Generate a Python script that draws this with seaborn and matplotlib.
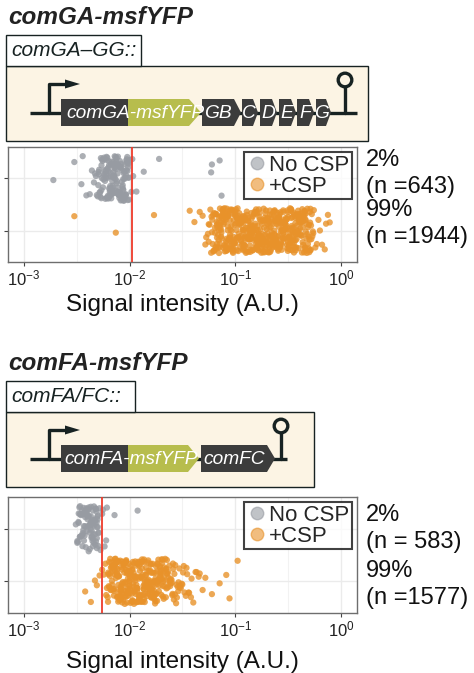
import matplotlib

matplotlib.use("Agg")
import matplotlib.pyplot as plt
import numpy as np
import pandas as pd
import seaborn as sns
from matplotlib.lines import Line2D
from matplotlib.patches import Circle, Polygon, Rectangle
from matplotlib.ticker import FixedLocator, NullFormatter

# ---- data ----
conditions = ["No CSP", "+CSP"]
construct_titles = ["comGA-msfYFP", "comFA-msfYFP"]
construct_labels = ["comGA\u2013GG::", "comFA/FC::"]
pct_labels = [["2%", "99%"], ["2%", "99%"]]
n_labels = [["(n =643)", "(n =1944)"], ["(n = 583)", "(n =1577)"]]
thresholds = [0.0105, 0.0055]

comga_nocsp = [
    0.0050, 0.0053, 0.0055, 0.0058, 0.0061, 0.0064, 0.0067, 0.0070, 0.0073, 0.0077,
    0.0081, 0.0085, 0.0089, 0.0093, 0.0098,
    0.0051, 0.0054, 0.0057, 0.0060, 0.0062, 0.0065, 0.0068, 0.0071, 0.0075, 0.0079,
    0.0083, 0.0087, 0.0091, 0.0096, 0.0100,
    0.0052, 0.0056, 0.0059, 0.0063, 0.0066, 0.0069, 0.0072, 0.0076, 0.0080, 0.0084,
    0.0088, 0.0092, 0.0095, 0.0099,
    0.0054, 0.0058, 0.0061, 0.0064, 0.0067, 0.0070, 0.0074, 0.0078, 0.0082, 0.0086,
    0.0090, 0.0094, 0.0097,
    0.0060, 0.0063, 0.0066, 0.0069, 0.0072, 0.0075, 0.0078, 0.0081, 0.0085, 0.0088,
    0.0092, 0.0065, 0.0071, 0.0076,
    0.00505, 0.00535, 0.00565, 0.00595, 0.00625, 0.00655, 0.00685, 0.00715, 0.00745,
    0.00785, 0.00825, 0.00865, 0.00905, 0.00945, 0.00985,
    0.00515, 0.00545, 0.00575, 0.00605, 0.00635, 0.00665, 0.00695, 0.00725, 0.00765,
    0.00805, 0.00845, 0.00885, 0.00925, 0.00965,
    0.00525, 0.00555, 0.00585, 0.00615, 0.00645, 0.00675, 0.00705, 0.00735, 0.00775,
    0.00815, 0.00855, 0.00895, 0.00935, 0.00975,
    0.00615, 0.00655, 0.00695, 0.00735, 0.00775, 0.00815, 0.00855, 0.00895,
    0.00572, 0.00602, 0.00632, 0.00662, 0.00692, 0.00722, 0.00752, 0.00792, 0.00832,
    0.00872, 0.00912, 0.00952, 0.00542, 0.00512,
    0.0019, 0.0030, 0.0035, 0.0036, 0.0039, 0.0042, 0.0044, 0.0046, 0.0047, 0.0048,
    0.0049, 0.0104, 0.0106, 0.0108, 0.0116, 0.0136, 0.019, 0.059, 0.060, 0.071, 0.074,
]
comga_csp = [
    0.058, 0.064, 0.071, 0.079, 0.086, 0.095, 0.104, 0.115, 0.127, 0.139, 0.152, 0.168,
    0.185, 0.203, 0.224, 0.246, 0.271, 0.298, 0.327, 0.361, 0.396, 0.437, 0.479, 0.528,
    0.061, 0.067, 0.074, 0.082, 0.090, 0.099, 0.109, 0.120, 0.132, 0.145, 0.160, 0.176,
    0.194, 0.213, 0.235, 0.258, 0.284, 0.313, 0.344, 0.378, 0.416, 0.458, 0.503, 0.552,
    0.059, 0.065, 0.072, 0.077, 0.084, 0.093, 0.101, 0.112, 0.123, 0.136, 0.149, 0.163,
    0.180, 0.198, 0.219, 0.240, 0.265, 0.291, 0.320, 0.352, 0.388, 0.426, 0.469, 0.516,
    0.062, 0.069, 0.075, 0.081, 0.088, 0.097, 0.107, 0.117, 0.129, 0.142, 0.156, 0.171,
    0.189, 0.208, 0.229, 0.252, 0.277, 0.305, 0.335, 0.369, 0.406, 0.447, 0.491, 0.540,
    0.060, 0.066, 0.070, 0.078, 0.085, 0.092, 0.102, 0.113, 0.124, 0.137, 0.150, 0.166,
    0.182, 0.201, 0.221, 0.243, 0.268, 0.294, 0.324, 0.356, 0.392, 0.431, 0.474, 0.522,
    0.063, 0.068, 0.076, 0.083, 0.091, 0.100, 0.110, 0.121, 0.134, 0.147, 0.161, 0.178,
    0.196, 0.216, 0.237, 0.261, 0.287, 0.316, 0.347, 0.382, 0.421, 0.463, 0.509,
    0.065, 0.073, 0.080, 0.087, 0.096, 0.105, 0.116, 0.128, 0.140, 0.154, 0.170, 0.187,
    0.205, 0.226, 0.249, 0.274, 0.301, 0.331, 0.365, 0.401, 0.442, 0.485,
    0.070, 0.083, 0.094, 0.108, 0.118, 0.131, 0.144, 0.158, 0.174, 0.192, 0.211, 0.232,
    0.255, 0.281, 0.309, 0.340, 0.374, 0.411, 0.452, 0.497,
    0.098, 0.111, 0.126, 0.138, 0.153, 0.167, 0.184, 0.202, 0.222, 0.244, 0.269, 0.296,
    0.329, 0.358, 0.399,
    0.064, 0.072, 0.089, 0.103, 0.119, 0.133, 0.146, 0.162, 0.179, 0.199, 0.217, 0.238,
    0.262, 0.289, 0.318, 0.349, 0.384, 0.423, 0.466, 0.512,
    0.067, 0.076, 0.093, 0.106, 0.122, 0.141, 0.155, 0.172, 0.193, 0.212, 0.233, 0.256,
    0.283, 0.311, 0.342, 0.376, 0.414, 0.455, 0.500, 0.545,
    0.0595, 0.0655, 0.0715, 0.0785, 0.0855, 0.0935, 0.103, 0.114, 0.125, 0.138, 0.151,
    0.165, 0.181, 0.200, 0.220, 0.242, 0.266, 0.293, 0.322, 0.355, 0.390, 0.429, 0.472, 0.519,
    0.0615, 0.0675, 0.0735, 0.0805, 0.0875, 0.0965, 0.106, 0.117, 0.128, 0.141, 0.155,
    0.170, 0.187, 0.206, 0.227, 0.249, 0.274, 0.301, 0.331, 0.364, 0.401, 0.441, 0.485, 0.534,
    0.0625, 0.0685, 0.0745, 0.0815, 0.0895, 0.0985, 0.108, 0.119, 0.131, 0.144, 0.158,
    0.174, 0.191, 0.210, 0.231, 0.254, 0.280, 0.308, 0.338, 0.372, 0.409, 0.450, 0.495,
    0.0645, 0.0705, 0.0775, 0.0845, 0.0925, 0.101, 0.111, 0.122, 0.135, 0.148, 0.163,
    0.179, 0.197, 0.216, 0.238, 0.262, 0.288, 0.317, 0.348, 0.383, 0.420, 0.462, 0.508,
    0.0665, 0.0725, 0.0795, 0.0865, 0.0945, 0.104, 0.114, 0.126, 0.138, 0.152, 0.167,
    0.184, 0.202, 0.222, 0.245, 0.269, 0.296, 0.326, 0.358, 0.394, 0.433, 0.477,
    0.0695, 0.0765, 0.0835, 0.0915, 0.100, 0.110, 0.121, 0.133, 0.146, 0.161, 0.177,
    0.195, 0.214, 0.235, 0.259, 0.285, 0.313, 0.345, 0.379, 0.417, 0.459,
    0.0755, 0.0825, 0.0905, 0.0995, 0.109, 0.120, 0.132, 0.145, 0.160, 0.176, 0.193,
    0.212, 0.234, 0.257, 0.283, 0.311, 0.342, 0.376,
    0.0785, 0.0885, 0.0975, 0.107, 0.118, 0.130, 0.143, 0.157, 0.173, 0.190, 0.209,
    0.230, 0.253, 0.278, 0.306, 0.337, 0.370, 0.407, 0.448,
    0.0605, 0.0668, 0.0738, 0.0812, 0.0898, 0.0988, 0.1088, 0.1195, 0.1318, 0.1452,
    0.1598, 0.1765, 0.1942, 0.2138, 0.2355, 0.2592, 0.2852, 0.3138, 0.3455, 0.3805,
    0.4185, 0.4605, 0.5065,
    0.0632, 0.0698, 0.0768, 0.0848, 0.0932, 0.1028, 0.1132, 0.1248, 0.1372, 0.1512,
    0.1665, 0.1832, 0.2018, 0.2222, 0.2448, 0.2695, 0.2965, 0.3265, 0.3595, 0.3955, 0.4355,
    0.0712, 0.0792, 0.0872, 0.0962, 0.1062, 0.1168, 0.1285, 0.1415, 0.1558, 0.1715,
    0.1888, 0.2078, 0.2288, 0.2518, 0.2772, 0.3052, 0.3358, 0.3695,
    0.0030, 0.0074, 0.017, 0.037, 0.041, 0.046, 0.049, 0.052, 0.053, 0.055, 0.056, 0.056,
    0.057, 0.57, 0.59, 0.61, 0.63, 0.66, 0.70, 0.72, 0.75, 0.78,
]
comfa_nocsp = [
    0.0032, 0.0034, 0.0035, 0.0037, 0.0039, 0.0041, 0.0043, 0.0045, 0.0047, 0.0049, 0.0051,
    0.0033, 0.0034, 0.0036, 0.0038, 0.0040, 0.0042, 0.0044, 0.0046, 0.0048, 0.0050,
    0.0032, 0.0035, 0.0037, 0.0039, 0.0041, 0.0043, 0.0045, 0.0047, 0.0049, 0.0052,
    0.0033, 0.0036, 0.0038, 0.0040, 0.0042, 0.0044, 0.0046, 0.0048, 0.0050,
    0.0034, 0.0037, 0.0040, 0.0043, 0.0045, 0.0047, 0.0049, 0.0036, 0.0041, 0.0044,
    0.00325, 0.00335, 0.00345, 0.00355, 0.00365, 0.00375, 0.00385, 0.00395, 0.00405,
    0.00415, 0.00425, 0.00435, 0.00445, 0.00455, 0.00465, 0.00475, 0.00485, 0.00495, 0.00505,
    0.00328, 0.00348, 0.00368, 0.00388, 0.00408, 0.00428, 0.00448, 0.00468, 0.00488, 0.00508,
    0.00338, 0.00358, 0.00378, 0.00398, 0.00418, 0.00438, 0.00458, 0.00478, 0.00498,
    0.0031, 0.0053, 0.0055, 0.0056, 0.0058, 0.0060, 0.0061, 0.0072, 0.0119,
]
comfa_csp = [
    0.0062, 0.0066, 0.0071, 0.0076, 0.0081, 0.0087, 0.0093, 0.0100, 0.0107, 0.0114, 0.0122,
    0.0131, 0.0140, 0.0150, 0.0160, 0.0171, 0.0183, 0.0196, 0.0210, 0.0225, 0.0241, 0.0258,
    0.0064, 0.0068, 0.0073, 0.0078, 0.0084, 0.0090, 0.0096, 0.0103, 0.0110, 0.0118, 0.0126,
    0.0135, 0.0145, 0.0155, 0.0166, 0.0177, 0.0189, 0.0203, 0.0217, 0.0232, 0.0249,
    0.0063, 0.0067, 0.0072, 0.0077, 0.0083, 0.0088, 0.0095, 0.0101, 0.0108, 0.0116, 0.0124,
    0.0133, 0.0142, 0.0152, 0.0163, 0.0174, 0.0186, 0.0199, 0.0213, 0.0228, 0.0245,
    0.0065, 0.0070, 0.0075, 0.0080, 0.0085, 0.0091, 0.0098, 0.0105, 0.0112, 0.0120, 0.0128,
    0.0137, 0.0147, 0.0157, 0.0168, 0.0180, 0.0193, 0.0206, 0.0220, 0.0236, 0.0253,
    0.0069, 0.0074, 0.0079, 0.0086, 0.0092, 0.0099, 0.0106, 0.0113, 0.0121, 0.0129, 0.0139,
    0.0148, 0.0158, 0.0169, 0.0181, 0.0194, 0.0208, 0.0223,
    0.0072, 0.0078, 0.0082, 0.0089, 0.0094, 0.0102, 0.0109, 0.0117, 0.0125, 0.0134, 0.0143,
    0.0154, 0.0165, 0.0176, 0.0188, 0.0201,
    0.0076, 0.0084, 0.0092, 0.0100, 0.0111, 0.0119, 0.0127, 0.0136, 0.0146, 0.0161, 0.0172,
    0.0185,
    0.00625, 0.00655, 0.00685, 0.00715, 0.00745, 0.00775, 0.00805, 0.00835, 0.00865,
    0.00895, 0.00925, 0.00955, 0.00985, 0.0102, 0.0106, 0.0110, 0.0114, 0.0118, 0.0123,
    0.0128, 0.0133, 0.0138, 0.0144, 0.0150, 0.0156, 0.0163, 0.0170, 0.0178, 0.0187,
    0.0197, 0.0207, 0.0219, 0.0231, 0.0244, 0.0257,
    0.00635, 0.00665, 0.00695, 0.00725, 0.00755, 0.00785, 0.00815, 0.00845, 0.00875,
    0.00905, 0.00935, 0.00965, 0.00995, 0.0104, 0.0108, 0.0112, 0.0116, 0.0121, 0.0126,
    0.0131, 0.0136, 0.0141, 0.0147, 0.0153, 0.0159, 0.0167, 0.0174, 0.0182, 0.0191,
    0.0202, 0.0212, 0.0224, 0.0238, 0.0251,
    0.00645, 0.00675, 0.00705, 0.00735, 0.00765, 0.00795, 0.00825, 0.00855, 0.00885,
    0.00915, 0.00945, 0.00975, 0.0101, 0.0105, 0.0109, 0.0113, 0.0117, 0.0122, 0.0127,
    0.0132, 0.0137, 0.0143, 0.0149, 0.0155, 0.0162, 0.0169, 0.0176, 0.0184, 0.0194,
    0.0205, 0.0216, 0.0229, 0.0242,
    0.0068, 0.0073, 0.0079, 0.0085, 0.0091, 0.0097, 0.0103, 0.0110, 0.0117, 0.0124,
    0.0132, 0.0141, 0.0151, 0.0162, 0.0173, 0.0185, 0.0198, 0.0212,
    0.00628, 0.00672, 0.00718, 0.00768, 0.00822, 0.00878, 0.00938, 0.01002, 0.01072,
    0.01145, 0.01225, 0.01308, 0.01398, 0.01495, 0.01598, 0.01708, 0.01825, 0.01952,
    0.02085, 0.02228, 0.02382, 0.02545,
    0.00658, 0.00708, 0.00758, 0.00812, 0.00868, 0.00928, 0.00992, 0.01062, 0.01135,
    0.01215, 0.01298, 0.01388, 0.01485, 0.01588,
    0.0262, 0.0268, 0.0278, 0.0288, 0.0298, 0.0305, 0.0315, 0.0325, 0.0345, 0.0365,
    0.0385, 0.0420, 0.0450,
    0.0265, 0.0270, 0.0275, 0.0280, 0.0285, 0.0290, 0.0295, 0.0300, 0.031, 0.032, 0.033,
    0.034, 0.035, 0.036, 0.038, 0.040, 0.043, 0.046, 0.049, 0.052, 0.060, 0.071, 0.082,
    0.088, 0.105,
    0.0038, 0.0043, 0.0047, 0.0049, 0.0052, 0.0055, 0.0057, 0.0059, 0.0060, 0.0061,
]
panel_values = [(comga_nocsp, comga_csp), (comfa_nocsp, comfa_csp)]

W, H = 474, 673
DARK = "#3c3c3c"
OLIVE = "#b7bd4d"
LINE = "#172222"
CREAM = "#fcf4e4"
palette = {"No CSP": "#979ba2", "+CSP": "#e8922a"}

sns.set_style("whitegrid")
plt.rcParams["font.family"] = ["Liberation Sans", "DejaVu Sans"]
plt.rcParams["mathtext.fontset"] = "custom"
plt.rcParams["mathtext.rm"] = "Liberation Sans"
plt.rcParams["mathtext.it"] = "Liberation Sans:italic"

fig = plt.figure(figsize=(W / 100, H / 100), dpi=100)

# overlay in pixel coordinates for the construct sketches
ov = fig.add_axes([0, 0, 1, 1])
ov.set_xlim(0, W)
ov.set_ylim(H, 0)
ov.axis("off")


def px_axes(x0, y0, x1, y1):
    return fig.add_axes([x0 / W, 1 - y1 / H, (x1 - x0) / W, (y1 - y0) / H])


def gene(x0, x1, tip, y0, y1, color):
    ym = (y0 + y1) / 2
    ov.add_patch(Polygon([(x0, y0), (x1, y0), (tip, ym), (x1, y1), (x0, y1)],
                         closed=True, facecolor=color, edgecolor="none", zorder=4))


def draw_construct(top, title, label, label_w, box_w, line_end, term_x, blocks, texts):
    ov.text(8, top - 18, title, fontsize=17.5, fontweight="bold", fontstyle="italic",
            color="#222222", ha="left", va="center")
    ov.add_patch(Rectangle((6, top + 31), box_w - 6, 75, facecolor=CREAM,
                           edgecolor=LINE, lw=1.0, zorder=1))
    ov.add_patch(Rectangle((6, top), label_w - 6, 31, facecolor="white",
                           edgecolor=LINE, lw=1.0, zorder=2))
    ov.text(11, top + 16, label, fontsize=15, fontstyle="italic", color=LINE,
            ha="left", va="center", zorder=3)
    yb = top + 78
    ov.plot([30, line_end], [yb, yb], color=LINE, lw=2.4, zorder=3, solid_capstyle="butt")
    # promoter
    ov.plot([49, 49, 68], [yb, top + 49, top + 49], color=LINE, lw=2.4, zorder=3)
    ov.add_patch(Polygon([(65, top + 44.5), (80, top + 49), (65, top + 53.5)],
                         closed=True, facecolor=LINE, edgecolor="none", zorder=3))
    # terminator
    ov.plot([term_x, term_x], [yb, top + 52], color=LINE, lw=2.4, zorder=3)
    ov.add_patch(Circle((term_x, top + 45), 6.8, facecolor="none", edgecolor=LINE,
                        lw=2.4, zorder=3))
    for x0, x1, tip, color in blocks:
        gene(x0, x1, tip, top + 64, top + 91, color)
    for txt, x, ha in texts:
        ov.text(x, top + 78, txt, fontsize=13.8, fontstyle="italic", color="white",
                ha=ha, va="center", zorder=5)


draw_construct(
    35, construct_titles[0], construct_labels[0], 141, 368, 357, 345,
    [(61, 128, 128, DARK), (128, 189, 201, OLIVE), (202, 234, 241, DARK),
     (242, 253, 258, DARK), (260, 272, 277, DARK), (279, 291, 296, DARK),
     (297, 309, 314, DARK), (316, 326, 331, DARK)],
    [("comGA-msfYFP", 66, "left"), ("GB", 218, "center"), ("C", 249, "center"),
     ("D", 268, "center"), ("E", 287, "center"), ("F", 305, "center"), ("G", 322, "center")],
)
draw_construct(
    381, construct_titles[1], construct_labels[1], 135, 314, 287, 281,
    [(61, 128, 128, DARK), (128, 188, 199, OLIVE), (201, 267, 275, DARK)],
    [("comFA-msfYFP", 64, "left"), ("comFC", 234, "center")],
)

axes_px = [(8, 147, 357, 262), (8, 497, 357, 613)]
label_pads = [4.0, 8.0]
text_shift = [(-0.09, -0.14), (0.0, 0.06)]
for i, (x0, y0, x1, y1) in enumerate(axes_px):
    ax = px_axes(x0, y0, x1, y1)
    nocsp, csp = panel_values[i]
    df = pd.DataFrame({
        "intensity": list(nocsp) + list(csp),
        "condition": [conditions[0]] * len(nocsp) + [conditions[1]] * len(csp),
    })
    sns.stripplot(data=df, x="intensity", y="condition", hue="condition",
                  order=conditions, hue_order=conditions, palette=palette,
                  jitter=0.43, size=4.5, alpha=0.8, linewidth=0, log_scale=True,
                  legend=False, ax=ax, zorder=3)
    ax.axvline(thresholds[i], color="#ee3b2b", lw=1.3, zorder=4)
    ax.set_xlim(10 ** -3.15, 10 ** 0.15)
    ax.set_ylim(1.6, -0.6)
    ax.set_xticks([1e-3, 1e-2, 1e-1, 1e0])
    ax.xaxis.set_minor_locator(FixedLocator([10 ** -2.5, 10 ** -1.5, 10 ** -0.5]))
    ax.xaxis.set_minor_formatter(NullFormatter())
    ax.grid(which="major", color="#ebebeb", lw=1.0)
    ax.grid(which="minor", axis="x", color="#f2f2f2", lw=0.8)
    ax.tick_params(axis="x", which="major", bottom=True, length=3, width=0.8,
                   color="#444444", labelsize=12, pad=2, labelcolor="#222222")
    ax.tick_params(axis="x", which="minor", length=0)
    ax.tick_params(axis="y", left=True, length=3, width=0.8, color="#444444",
                   labelleft=False)
    ax.set_ylabel("")
    ax.set_xlabel("Signal intensity (A.U.)", fontsize=17.5, color="#111111",
                  labelpad=label_pads[i])
    for sp in ax.spines.values():
        sp.set_color("#6e6e6e")
        sp.set_linewidth(1.0)
    handles = [
        Line2D([], [], marker="o", ls="", markersize=9, markerfacecolor=palette[c],
               markeredgecolor=palette[c], alpha=0.6, label=c)
        for c in conditions
    ]
    leg = ax.legend(handles=handles, loc="upper right", bbox_to_anchor=(0.986, 0.957),
                    frameon=True, fancybox=False, fontsize=16, handletextpad=0.1,
                    borderpad=0.12, labelspacing=0.0, handlelength=0.9, borderaxespad=0)
    leg.get_frame().set_edgecolor("#111111")
    leg.get_frame().set_linewidth(1.5)
    leg.set_zorder(6)
    trans = ax.get_yaxis_transform()
    for k in range(2):
        ax.text(1.025, k + text_shift[i][k], pct_labels[i][k] + "\n" + n_labels[i][k],
                transform=trans, fontsize=17, ha="left", va="center", linespacing=1.28,
                color="#111111", clip_on=False)

fig.savefig("out.png", dpi=100)
